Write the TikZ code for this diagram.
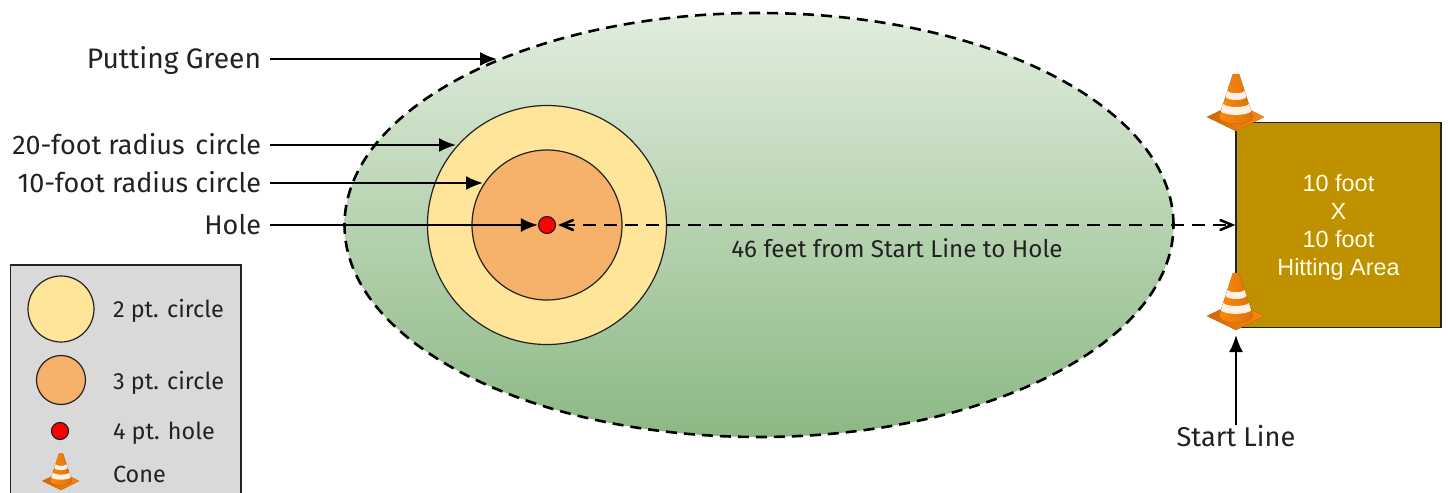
\documentclass[tikz,border=0pt]{standalone}
\usepackage{fontspec}
\setmainfont{Fira Sans}
\newfontfamily\areafont{Liberation Sans}
\usetikzlibrary{shapes.geometric,arrows,arrows.meta}

\definecolor{yellowFill}{HTML}{FFE599}
\definecolor{orangeFill}{HTML}{F6B26B}
\definecolor{areaFill}{HTML}{BF9000}
\definecolor{legendFill}{HTML}{D9D9D9}
\definecolor{lineDark}{HTML}{222222}
\definecolor{greenTop}{HTML}{E1EDDD}
\definecolor{greenBot}{HTML}{8CB884}
\definecolor{coneLight}{HTML}{FF8A0C}
\definecolor{coneDark}{HTML}{C8670C}

\tikzset{
	txt/.style={inner sep=0pt, outer sep=0pt, text=lineDark, font=\fontsize{12.1}{14}\selectfont},
	lbl/.style={txt, anchor=east, outer sep=4.5pt, text height=12pt, text depth=2.5pt, font=\fontsize{13.5}{15}\selectfont},
	keytxt/.style={txt, anchor=west, font=\fontsize{11.7}{13}\selectfont},
	ptr/.style={-{Latex[length=8.5pt,width=7pt]}, line width=1pt, draw=black},
	dashline/.style={dash pattern=on 6.5pt off 4pt, line width=1.3pt},
	spot/.style={circle, draw=lineDark, line width=.6pt, inner sep=0pt},
	pics/cone/.style={code={
		\path[left color=coneDark, right color=coneLight, draw=coneDark, line width=.2pt]
			(-29,0) -- (0,-14) -- (28,0) -- (0,14) -- cycle;
		\path[left color=coneLight, right color=coneDark!70!coneLight, draw=coneDark, line width=.2pt]
			(-3,-43) -- (3,-43) -- (17,0) .. controls (15,9) and (-15,9) .. (-17,0) -- cycle;
		\fill[white!90!orange] (-8.5,-26) .. controls (-6,-23) and (6,-23) .. (8.5,-26)
			-- (10.5,-20) .. controls (7,-16) and (-7,-16) .. (-10.5,-20) -- cycle;
		\fill[white!90!orange] (-12.8,-13) .. controls (-9,-9) and (9,-9) .. (12.8,-13)
			-- (15.2,-5.5) .. controls (10,-1) and (-10,-1) .. (-15.2,-5.5) -- cycle;
	}}
}

\begin{document}
\begin{tikzpicture}[x=.5pt, y=-.5pt]
\useasboundingbox (0,0) rectangle (1448,493);

% green and circles
\node[ellipse, draw=black, dash pattern=on 5.5pt off 3.5pt, line width=1.3pt, inner sep=0pt,
	minimum width=829*.5pt, minimum height=424*.5pt,
	top color=greenTop, bottom color=greenBot] (green) at (759,225) {};
\node[spot, fill=yellowFill, minimum size=239*.5pt] (outer) at (547,225) {};
\node[spot, fill=orangeFill, minimum size=150*.5pt] (inner) at (547,225) {};
\node[spot, fill=red, minimum size=17*.5pt] (hole) at (547,225) {};

% hitting area
\node[rectangle, draw=lineDark, line width=.7pt, fill=areaFill, minimum width=205*.5pt, minimum height=205*.5pt] (area) at (1338.5,225) {};
\node[align=center, inner sep=0pt, text=white!90!yellow, font=\areafont\fontsize{11.7}{14}\selectfont] (areaTxt) at (1338.5,227.5)
	{10 foot\\X\\10 foot\\Hitting Area};

% labels
\node[lbl, font=\fontsize{14.1}{15}\selectfont] (lblGreen) at (270,59) {Putting Green};
\node[lbl] (lblOuter) at (270,145) {20-foot radius\hspace{.4em}circle};
\node[lbl] (lblInner) at (270,183) {10-foot radius circle};
\node[lbl] (lblHole) at (270,225) {Hole};
\node[txt] (lblDist) at (897,248) {46 feet from Start Line to Hole};
\node[txt, font=\fontsize{13.6}{15}\selectfont] (lblStart) at (1236,436) {Start Line};

\coordinate (tipGreen) at (497,59);
\coordinate (tipOuter) at (456,145);
\coordinate (tipInner) at (483,183);
\coordinate (tipStart) at (1236,335);

\draw[ptr] (lblGreen) -- (tipGreen);
\draw[ptr] (lblOuter) -- (tipOuter);
\draw[ptr] (lblInner) -- (tipInner);
\draw[ptr] (lblHole) -- (hole);
\draw[ptr] (lblStart) -- (tipStart);
\draw[angle 45-angle 45, dashline, shorten <=1pt] (hole) -- (area);

\pic at (1236,117) {cone};
\pic at (1236,316) {cone};

% legend
\draw[draw=lineDark, line width=.6pt, fill=legendFill] (10.5,265) rectangle (241,497);
\node[spot, fill=yellowFill, minimum size=66*.5pt] (keyOuter) at (61,309) {};
\node[spot, fill=orangeFill, minimum size=49*.5pt] (keyInner) at (61,380) {};
\node[spot, fill=red, minimum size=17*.5pt] (keyHole) at (60,431) {};
\pic[scale=.64] at (61,481) {cone};
\node[keytxt] (txtOuter) at (113,311) {2 pt. circle};
\node[keytxt] (txtInner) at (113,383) {3 pt. circle};
\node[keytxt] (txtHole) at (113,433) {4 pt. hole};
\node[keytxt] (txtCone) at (113,474) {Cone};

\end{tikzpicture}
\end{document}
